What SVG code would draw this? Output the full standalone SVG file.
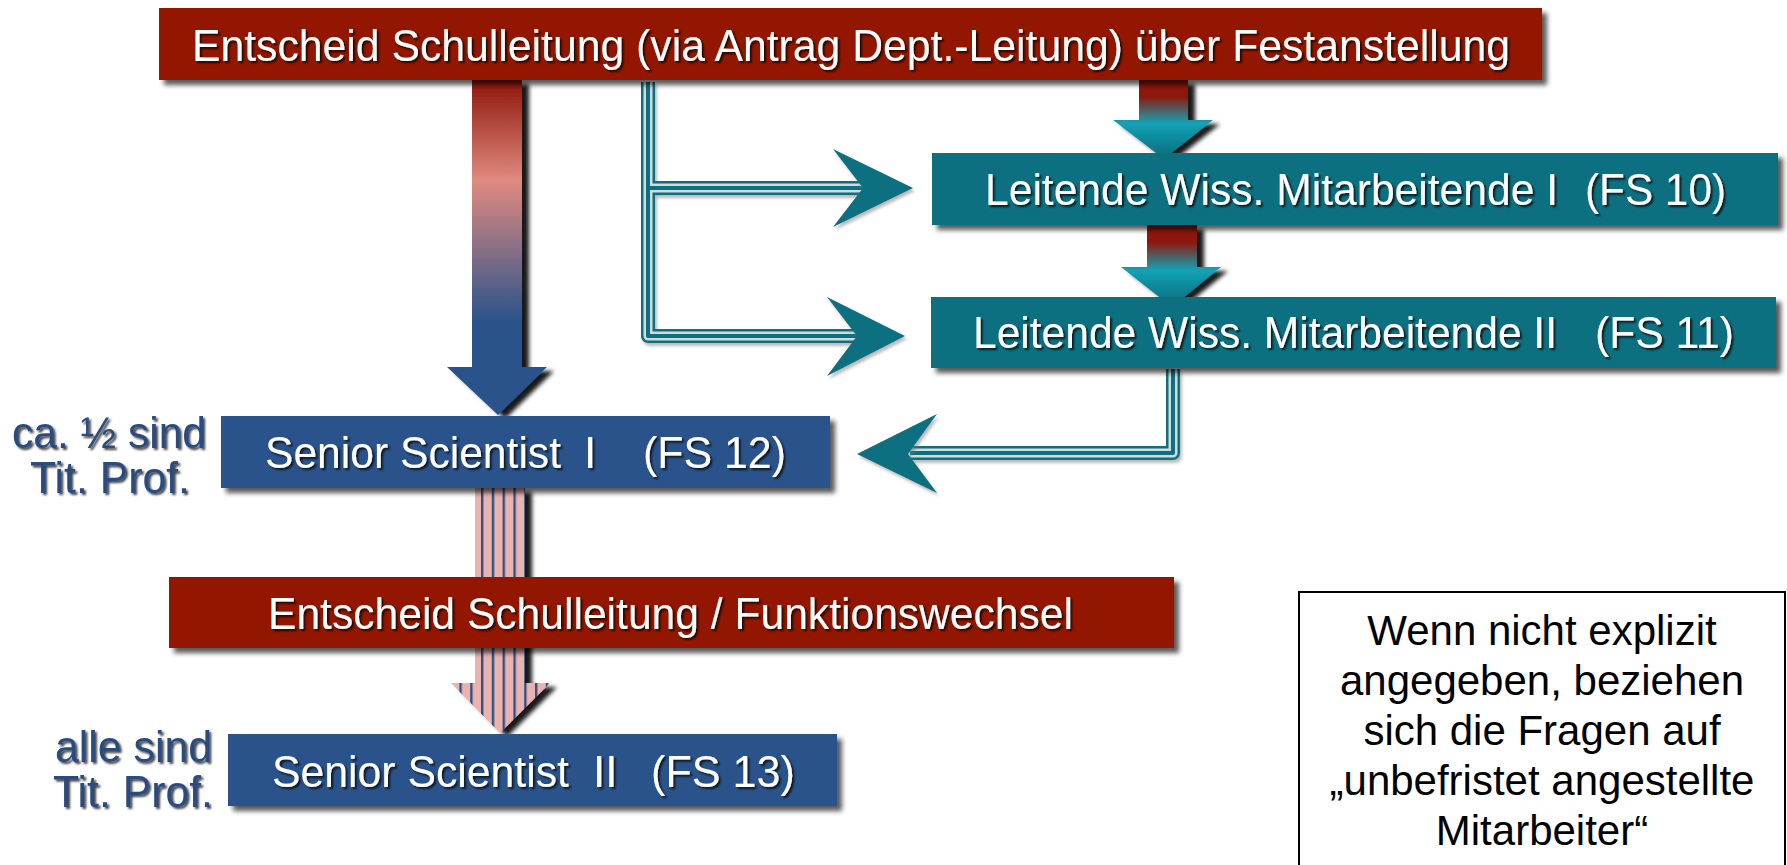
<svg xmlns="http://www.w3.org/2000/svg" width="1787" height="865" viewBox="0 0 1787 865">
<style>
.red{fill:#931400}
.teal{fill:#086f81}
.blue{fill:#2a538b}
.lbl{font-family:"Liberation Sans",Arial,sans-serif;font-size:44px;fill:#fff}
.side{font-family:"Liberation Sans",Arial,sans-serif;font-size:44px;fill:#2b4c7e}
.note{font-family:"Liberation Sans",Arial,sans-serif;font-size:42px;fill:#000;text-anchor:middle}
.dl1{fill:none;stroke:#086f81;stroke-width:14;stroke-linejoin:round}
.dl2{fill:none;stroke:#d3dadb;stroke-width:9;stroke-linejoin:round}
.dl3{fill:none;stroke:#086f81;stroke-width:4;stroke-linejoin:round}
.chev{fill:#086f81}
</style>
<defs>
<filter id="boxShadow" x="-5%" y="-20%" width="115%" height="150%">
<feDropShadow dx="5" dy="5" stdDeviation="2.5" flood-color="#000" flood-opacity="0.65"/>
</filter>
<filter id="arrowShadow" x="-30%" y="-10%" width="170%" height="130%">
<feDropShadow dx="7" dy="4" stdDeviation="2" flood-color="#000" flood-opacity="0.9"/>
</filter>
<filter id="txtShadow" x="-5%" y="-30%" width="110%" height="160%">
<feDropShadow dx="2" dy="2" stdDeviation="1" flood-color="#000" flood-opacity="0.75"/>
</filter>
<filter id="lineShadow" x="-10%" y="-10%" width="120%" height="130%">
<feDropShadow dx="2" dy="3" stdDeviation="1.5" flood-color="#777" flood-opacity="0.5"/>
</filter>
<linearGradient id="bigGrad" gradientUnits="userSpaceOnUse" x1="0" y1="80" x2="0" y2="415">
<stop offset="0" stop-color="#8e1508"/>
<stop offset="0.30" stop-color="#e08a80"/>
<stop offset="0.72" stop-color="#2a538b"/>
<stop offset="1" stop-color="#2a538b"/>
</linearGradient>
<linearGradient id="smallGradA" gradientUnits="userSpaceOnUse" x1="0" y1="80" x2="0" y2="159">
<stop offset="0" stop-color="#8e1508"/>
<stop offset="0.2" stop-color="#8e1508"/>
<stop offset="0.55" stop-color="#13a2b6"/>
<stop offset="1" stop-color="#086a7a"/>
</linearGradient>
<linearGradient id="smallGradB" gradientUnits="userSpaceOnUse" x1="0" y1="225" x2="0" y2="307">
<stop offset="0" stop-color="#8e1508"/>
<stop offset="0.2" stop-color="#8e1508"/>
<stop offset="0.55" stop-color="#13a2b6"/>
<stop offset="1" stop-color="#086a7a"/>
</linearGradient>
<pattern id="stripes" patternUnits="userSpaceOnUse" x="481" y="0" width="10.8" height="20">
<rect x="0" y="0" width="10.8" height="20" fill="#ecb2ae"/>
<rect x="0" y="0" width="2.4" height="20" fill="#2a538b"/>
</pattern>
</defs>

<g id="connectors">
<path d="M472 80 H522 V367 H547 L498 415 L447 367 H472 Z" fill="url(#bigGrad)" filter="url(#arrowShadow)"/>
<path d="M1139 80 H1188 V120 H1213 L1164 159 L1113 120 H1139 Z" fill="url(#smallGradA)" filter="url(#arrowShadow)"/>
<path d="M1147 225 H1197 V267 H1221 L1172 307 L1121 267 H1147 Z" fill="url(#smallGradB)" filter="url(#arrowShadow)"/>
<path d="M475 488 H525 V683 H550 L500 733 L451 683 H475 Z" fill="url(#stripes)" filter="url(#arrowShadow)"/>
<g filter="url(#lineShadow)">
<path class="dl1" d="M648 82 V336 H862 M648 188 H866"/>
<path class="dl2" d="M648 82 V336 H862 M648 188 H866"/>
<path class="dl3" d="M648 82 V336 H862 M648 188 H866"/>
<path class="dl1" d="M1173 369 V453 H910"/>
<path class="dl2" d="M1173 369 V453 H910"/>
<path class="dl3" d="M1173 369 V453 H910"/>
</g>
<path class="chev" d="M913 188 L833 149 L863 188 L833 227 Z" filter="url(#lineShadow)"/>
<path class="chev" d="M905 336 L827 297 L857 336 L827 376 Z" filter="url(#lineShadow)"/>
<path class="chev" d="M857 454 L937 414 L908 454 L937 493 Z" filter="url(#lineShadow)"/>
</g>

<g id="n_top">
<rect class="red" x="159" y="8" width="1383" height="72" filter="url(#boxShadow)"/>
<text class="lbl" x="192" y="61" font-size="45" textLength="1318" lengthAdjust="spacingAndGlyphs" filter="url(#txtShadow)">Entscheid Schulleitung (via Antrag Dept.-Leitung) über Festanstellung</text>
</g>

<g id="n_lwm1">
<rect class="teal" x="932" y="153" width="846" height="72" filter="url(#boxShadow)"/>
<g filter="url(#txtShadow)">
<text class="lbl" x="985" y="205" textLength="573" lengthAdjust="spacingAndGlyphs">Leitende Wiss. Mitarbeitende I</text>
<text class="lbl" x="1585" y="205" textLength="141" lengthAdjust="spacingAndGlyphs">(FS 10)</text>
</g>
</g>

<g id="n_lwm2">
<rect class="teal" x="931" y="297" width="845" height="71" filter="url(#boxShadow)"/>
<g filter="url(#txtShadow)">
<text class="lbl" x="973" y="348" textLength="584" lengthAdjust="spacingAndGlyphs">Leitende Wiss. Mitarbeitende II</text>
<text class="lbl" x="1595" y="348" textLength="139" lengthAdjust="spacingAndGlyphs">(FS 11)</text>
</g>
</g>

<g id="n_ss1">
<rect class="blue" x="221" y="416" width="609" height="72" filter="url(#boxShadow)"/>
<g filter="url(#txtShadow)">
<text class="lbl" x="265" y="468" textLength="296" lengthAdjust="spacingAndGlyphs">Senior Scientist</text>
<text class="lbl" x="584" y="468">I</text>
<text class="lbl" x="643" y="468" textLength="143" lengthAdjust="spacingAndGlyphs">(FS 12)</text>
</g>
</g>

<g id="n_red2">
<rect class="red" x="169" y="577" width="1005" height="71" filter="url(#boxShadow)"/>
<text class="lbl" x="268" y="629" textLength="805" lengthAdjust="spacingAndGlyphs" filter="url(#txtShadow)">Entscheid Schulleitung / Funktionswechsel</text>
</g>

<g id="n_ss2">
<rect class="blue" x="228" y="734" width="609" height="72" filter="url(#boxShadow)"/>
<g filter="url(#txtShadow)">
<text class="lbl" x="272" y="787" textLength="297" lengthAdjust="spacingAndGlyphs">Senior Scientist</text>
<text class="lbl" x="593" y="787">II</text>
<text class="lbl" x="651" y="787" textLength="144" lengthAdjust="spacingAndGlyphs">(FS 13)</text>
</g>
</g>

<g id="lbl_ss1" filter="url(#txtShadow)">
<text class="side" x="12" y="448" textLength="194" lengthAdjust="spacingAndGlyphs">ca. ½ sind</text>
<text class="side" x="30" y="493" textLength="160" lengthAdjust="spacingAndGlyphs">Tit. Prof.</text>
</g>

<g id="lbl_ss2" filter="url(#txtShadow)">
<text class="side" x="55" y="762" textLength="157" lengthAdjust="spacingAndGlyphs">alle sind</text>
<text class="side" x="53" y="807" textLength="160" lengthAdjust="spacingAndGlyphs">Tit. Prof.</text>
</g>

<g id="n_note">
<rect x="1299" y="592" width="486" height="290" fill="#fff" stroke="#000" stroke-width="2"/>
<text class="note" x="1542" y="645">Wenn nicht explizit</text>
<text class="note" x="1542" y="695">angegeben, beziehen</text>
<text class="note" x="1542" y="745">sich die Fragen auf</text>
<text class="note" x="1542" y="795">„unbefristet angestellte</text>
<text class="note" x="1542" y="845">Mitarbeiter“</text>
</g>
</svg>
